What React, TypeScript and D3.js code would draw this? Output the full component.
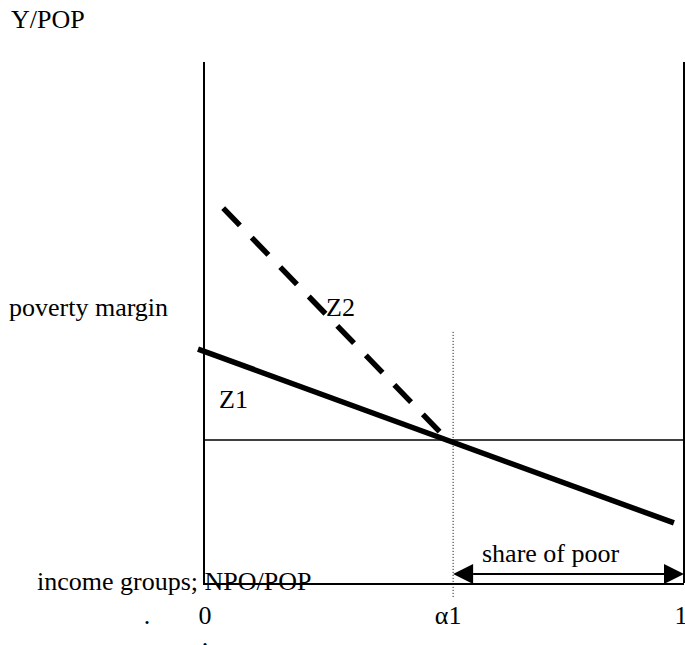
import React from "react";
import * as d3 from "d3";

// share of population on x (0..1), income per head on y (0..1)
const frameXs = [0, 1];
const povertyLevel = 0.276;
const alpha1 = 0.519;
const z1Line = [
  { x: -0.0125, y: 0.45 },
  { x: 0.979, y: 0.117 },
];
const z2Line = [
  { x: 0.04, y: 0.72 },
  { x: 0.494, y: 0.289 },
];
const alphaGuide = [0.483, -0.027];
const shareArrowY = 0.019;
const tickLabels = [
  { v: 0, label: "0", dx: 1 },
  { v: alpha1, label: "α1", dx: -5 },
  { v: 1, label: "1", dx: -3 },
];

const W = 685;
const H = 645;
const font = "'Liberation Serif', 'Times New Roman', serif";

export default function App() {
  const x = d3.scaleLinear().domain([0, 1]).range([204, 684]);
  const y = d3.scaleLinear().domain([0, 1]).range([584, 62]);
  const line = d3
    .line<{ x: number; y: number }>()
    .x((d) => x(d.x))
    .y((d) => y(d.y));

  const ay = y(shareArrowY);
  const x0 = x(alpha1);
  const x1 = x(1);
  const head = 20;
  const half = 10;

  return (
    <svg
      width={W}
      height={H}
      style={{ position: "absolute", left: 0, top: 0, background: "#fff" }}
      fontFamily={font}
      fontSize={26}
    >
      <rect width={W} height={H} fill="#fff" />
      {/* frame */}
      {frameXs.map((v) => (
        <line
          key={v}
          x1={x(v)}
          x2={x(v)}
          y1={y(1)}
          y2={y(0) - 1}
          stroke="#000"
          strokeWidth={2}
        />
      ))}
      <line x1={x(0) - 1} x2={x(1)} y1={y(0)} y2={y(0)} stroke="#000" strokeWidth={2} />
      {/* poverty line */}
      <line
        x1={x(0)}
        x2={x(1)}
        y1={y(povertyLevel)}
        y2={y(povertyLevel)}
        stroke="#000"
        strokeWidth={1.5}
      />
      {/* alpha1 guide */}
      <line
        x1={x(alpha1)}
        x2={x(alpha1)}
        y1={y(alphaGuide[0])}
        y2={y(alphaGuide[1])}
        stroke="#000"
        strokeWidth={1}
        strokeDasharray="1,2"
      />
      {/* Z2 dashed */}
      <path
        d={line(z2Line) ?? ""}
        fill="none"
        stroke="#000"
        strokeWidth={5.5}
        strokeDasharray="24,17"
      />
      {/* Z1 solid */}
      <path d={line(z1Line) ?? ""} fill="none" stroke="#000" strokeWidth={5.5} />
      {/* share of poor arrow */}
      <line x1={x0 + head} x2={x1 - head} y1={ay} y2={ay} stroke="#000" strokeWidth={2} />
      <polygon points={`${x0},${ay} ${x0 + head},${ay - half} ${x0 + head},${ay + half}`} fill="#000" />
      <polygon points={`${x1},${ay} ${x1 - head},${ay - half} ${x1 - head},${ay + half}`} fill="#000" />

      {/* texts */}
      <text x={11} y={28}>Y/POP</text>
      <text x={9} y={316}>poverty margin</text>
      <text x={326} y={316}>Z2</text>
      <text x={219} y={408}>Z1</text>
      <text x={482} y={562}>share of poor</text>
      <text x={37} y={590}>income groups; NPO/POP</text>
      {tickLabels.map((t) => (
        <text key={t.label} x={x(t.v) + t.dx} y={624} textAnchor="middle">
          {t.label}
        </text>
      ))}
      <text x={147} y={624} textAnchor="middle">.</text>
      <text x={205} y={646} textAnchor="middle">.</text>
    </svg>
  );
}
